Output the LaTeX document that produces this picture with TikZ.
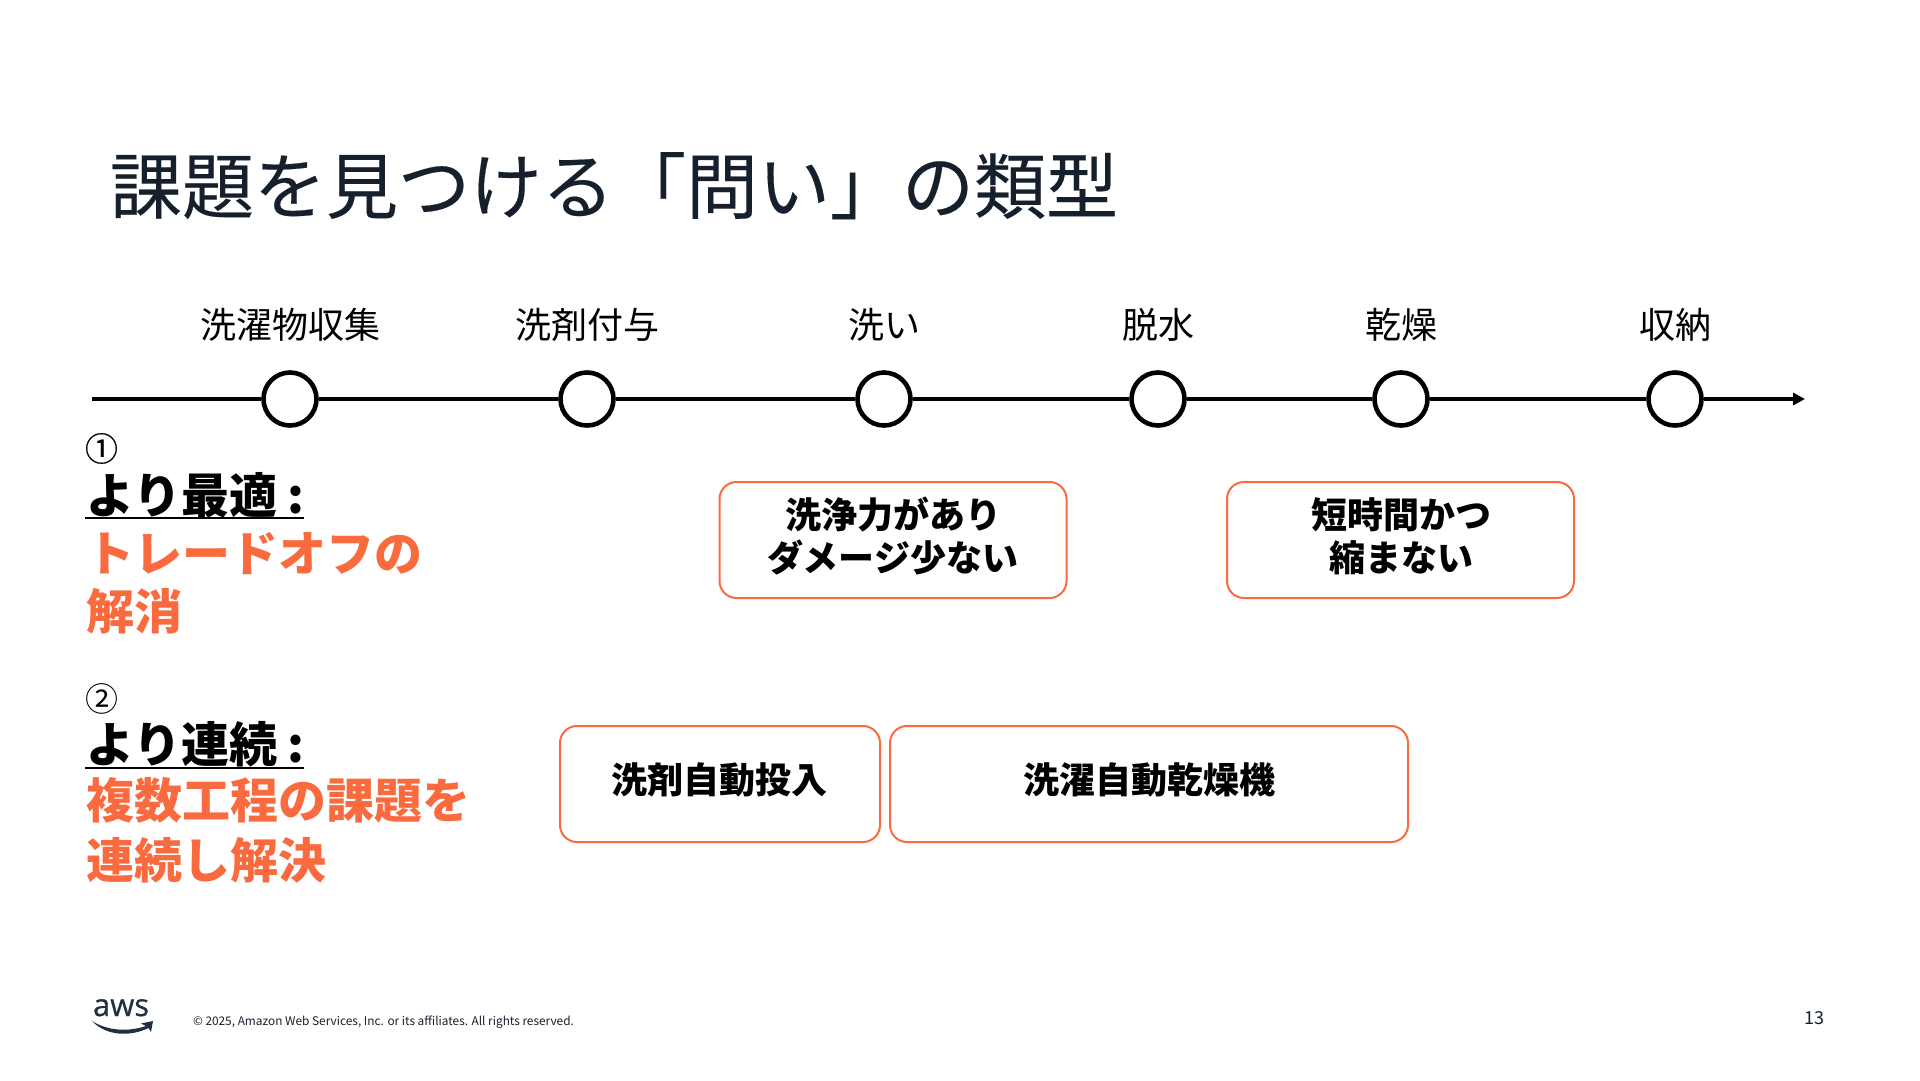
\documentclass[tikz,border=0pt]{standalone}
\usepackage{fontspec}
\setmainfont{Noto Sans CJK JP}
\newfontfamily\latinfont[FakeBold=0.6]{Open Sans}
\newfontfamily\numfont[FakeBold=0.5]{Noto Sans CJK JP}
\newfontfamily\titlefont[FakeBold=0.25]{Noto Sans CJK JP}
\usetikzlibrary{arrows.meta}
\definecolor{accent}{HTML}{F96B3F}
\definecolor{ink}{HTML}{16202D}
\definecolor{awsink}{HTML}{232F3E}
\newcommand{\fs}[1]{\fontsize{#1}{#1}\selectfont}
\tikzset{
  x=1pt,y=-1pt,
  tx/.style={inner sep=0pt,outer sep=0pt},
  stage/.style={circle,draw=black,line width=4.6pt,fill=white,minimum size=53pt,inner sep=0pt},
  stagelabel/.style={tx,anchor=base,font=\fs{36}},
  flow/.style={draw=black,line width=3.4pt},
  head/.style={tx,anchor=base west,font=\fs{48}\bfseries},
  num/.style={tx,anchor=base west,font=\fs{33}},
  orange/.style={tx,anchor=base west,font=\fs{48}\bfseries,text=accent},
  solution/.style={draw=accent,line width=2pt,rounded corners=17pt,fill=white,inner sep=0pt,align=center,font=\fontsize{36}{43}\selectfont\bfseries},
}
\begin{document}
\begin{tikzpicture}
\useasboundingbox (0,0) rectangle (1920,1080);
\node[tx,anchor=base west,text=ink,font=\titlefont\fs{72}] (title) at (110,213) {課題を見つける「問い」の類型};

\coordinate (start) at (92,399);
\coordinate (end) at (1805,399);
\node[stage] (c1) at (290,399) {};
\node[stage] (c2) at (587,399) {};
\node[stage] (c3) at (884,399) {};
\node[stage] (c4) at (1158,399) {};
\node[stage] (c5) at (1401,399) {};
\node[stage] (c6) at (1675,399) {};
\draw[flow] (start) -- (c1);
\draw[flow] (c1) -- (c2);
\draw[flow] (c2) -- (c3);
\draw[flow] (c3) -- (c4);
\draw[flow] (c4) -- (c5);
\draw[flow] (c5) -- (c6);
\draw[flow,-{Triangle[length=12pt,width=12pt]}] (c6) -- (end);

\node[stagelabel] (l1) at (290,338) {洗濯物収集};
\node[stagelabel] (l2) at (587,338) {洗剤付与};
\node[stagelabel] (l3) at (884,338) {洗い};
\node[stagelabel] (l4) at (1158,338) {脱水};
\node[stagelabel] (l5) at (1401,338) {乾燥};
\node[stagelabel] (l6) at (1675,338) {収納};

\node[num,font=\numfont\fs{33}] (n1) at (85,461) {①};
\node[head] (h1) at (86,513) {より最適 :};
\coordinate (u1a) at (85,518); \coordinate (u1b) at (304,518);
\draw[black,line width=2.6pt] (u1a) -- (u1b);
\node[orange] (o1) at (86,571) {トレードオフの};
\node[orange] (o2) at (86,629) {解消};

\node[num] (n2) at (85,711) {②};
\node[head] (h2) at (86,762) {より連続 :};
\coordinate (u2a) at (85,768); \coordinate (u2b) at (304,768);
\draw[black,line width=2.6pt] (u2a) -- (u2b);
\node[orange] (o3) at (86,818) {複数工程の課題を};
\node[orange] (o4) at (86,878) {連続し解決};

\tikzset{raised/.style={yshift=3.5pt}}
\node[solution,minimum width=347pt,minimum height=116pt] (b1) at (893,540) {};
\node[tx,align=center,font=\fontsize{36}{43}\selectfont\bfseries] (b1t) at (893,536) {洗浄力があり\\ダメージ少ない};
\node[solution,minimum width=347pt,minimum height=116pt] (b2) at (1400.5,540) {};
\node[tx,align=center,font=\fontsize{36}{43}\selectfont\bfseries] (b2t) at (1401,536) {短時間かつ\\縮まない};
\node[solution,minimum width=320pt,minimum height=116pt] (b3) at (720,784) {};
\node[tx,font=\fs{36}\bfseries] (b3t) at (719,780) {洗剤自動投入};
\node[solution,minimum width=518pt,minimum height=116pt] (b4) at (1149,784) {};
\node[tx,font=\fs{36}\bfseries] (b4t) at (1149,780) {洗濯自動乾燥機};

\node[tx,anchor=base west,text=awsink,font=\latinfont\fs{31}] (aws) at (93,1016) {aws};
\fill[awsink] (92,1021) .. controls (108,1031) and (128,1032) .. (146,1026) -- (141,1023.5) -- (153,1021) -- (151,1032) -- (148.5,1028) .. controls (130,1037) and (106,1036) .. (92,1021) -- cycle;
\node[tx,anchor=base west,text=ink,font=\fs{11.85}] (copy) at (193,1025) {© 2025, Amazon Web Services, Inc. or its affiliates. All rights reserved.};
\node[tx,anchor=base east,text=ink,font=\fs{18}] (page) at (1824,1024) {13};
\end{tikzpicture}
\end{document}
